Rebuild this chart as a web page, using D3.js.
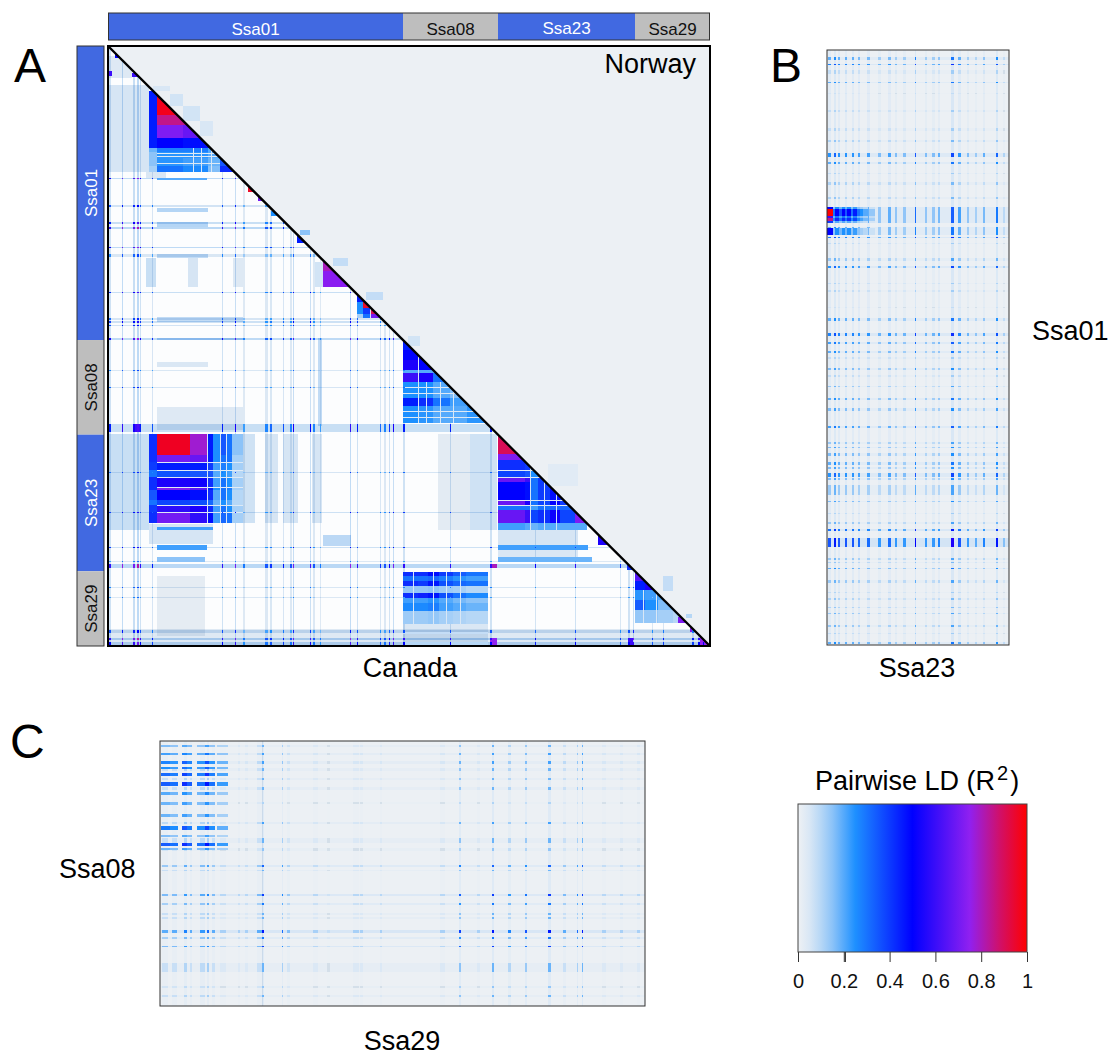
<!DOCTYPE html>
<html lang="en">
<head>
<meta charset="UTF-8">
<title>Pairwise LD</title>
<script src="https://d3js.org/d3.v7.min.js"></script>
<style>
  html, body { margin: 0; background: #fff; }
  svg { display: block; font-family: "Liberation Sans", Arial, sans-serif; }
  .cell { shape-rendering: crispEdges; }
  .mult { mix-blend-mode: multiply; }
</style>
</head>
<body>
<svg id="fig" width="1115" height="1057"></svg>
<script>
// colour key
const ldValues = [0, .05, .1, .15, .25, .5, .75, .88, 1];
const ldColors = ["#eef1f4", "#d9e7f5", "#b6d7f6", "#8cc3f8", "#1e90ff", "#0000ff", "#9020f0", "#d0106a", "#ff0000"];
const legendTicks = [0, .2, .4, .6, .8, 1];
const legendExtraTick = .205;

// chromosomes, boundaries in marker bins
const chromNames = ["Ssa01", "Ssa08", "Ssa23", "Ssa29"];
const chromEnds = [0, 295, 390, 527, 602];
const chromFill = ["#4169e1", "#bebebe", "#4169e1", "#bebebe"];
const chromText = ["#fff", "#111", "#fff", "#111"];

// panel A: [position, size, R2] for markers with LD across the genome
const aRows = [[132,1,.12],[159,2,.08],[176,2,.1],[181,2,.13],[201,1,.12],[208,3,.06],[246,1,.1],[272,2,.07],[275,2,.09],[279,1,.08],[292,2,.12],[324,1,.06],[341,1,.07],[378,8,.1],[426,1,.07],[466,1,.09],[501,1,.09],[515,1,.05],[518,4,.13],[541,1,.06],[551,1,.05],[584,3,.08],[592,2,.13],[596,4,.11]];
const aCols = [[1,2,.1],[14,1,.13],[25,2,.12],[29,2,.14],[32,1,.1],[44,1,.08],[114,1,.1],[127,1,.12],[135,2,.05],[157,3,.06],[162,2,.07],[175,1,.08],[182,2,.06],[185,1,.12],[202,1,.11],[205,2,.06],[212,1,.05],[242,1,.13],[249,1,.1],[272,1,.07],[276,2,.06],[281,1,.09],[285,1,.12],[295,2,.1],[342,1,.1],[382,2,.1],[427,1,.09],[467,1,.1],[512,1,.07],[520,2,.1],[525,1,.12],[544,1,.07],[555,1,.08],[584,2,.08],[590,2,.1],[595,1,.1]];

// panel A: pale patches [x0, x1, y0, y1, R2]
const aWash = [[1,41,39,126,.05],[1,24,10,32,.03],[38,58,126,132,.04],[1,41,388,484,.07],[135,147,388,477,.06],[157,170,388,477,.05],[175,190,388,477,.05],[204,214,388,477,.05],[49,100,162,166,.1],[49,100,176,181,.1],[49,100,208,212,.08],[49,135,271,276,.08],[49,135,292,294,.1],[210,214,292,380,.08],[38,48,212,241,.07],[80,90,212,241,.05],[125,135,212,241,.03],[49,100,316,321,.04],[49,135,361,384,.03],[362,389,388,484,.06],[330,362,388,484,.02],[215,243,489,500,.09],[41,105,478,498,.05],[295,380,577,600,.04],[0,602,583,600,.03],[390,470,484,499,.05],[390,470,504,511,.04],[49,97,530,590,.015]];

// panel A: LD blocks as band edges and a table of R2 read per band
const g1Rows = [45,69,79,92,102,106,112,120,126];
const g1Cols = [41,49,75,100,112,126];
const g1Vals = [[.45,.97,.97,.97,.97],[.45,.85,.85,.85,.85],[.45,.72,.68,.6,.6],[.45,.5,.48,.5,.55],[.18,.28,.28,.2,.3],[.15,.24,.24,.2,.25],[.15,.24,.22,.18,.35],[.12,.3,.26,.16,.42]];
const g3Rows = [216,225,241];
const g3Cols = [207,215,240];
const g3Vals = [[.06,.8],[.06,.74]];
const g4Rows = [249,256,262,268,272];
const g4Cols = [249,255,262,272];
const g4Vals = [[.45,.3,.2],[.25,.95,.45],[.25,.4,.9],[.12,.3,.7]];
const g5Rows = [294,304,314,324,327,336,352,360,377];
const g5Cols = [295,310,325,342,359,380];
const g5Vals = [[.45,.5,.5,.5,.5],[.5,.5,.5,.5,.5],[.55,.5,.42,.4,.4],[.2,.2,.2,.2,.2],[.6,.55,.3,.3,.3],[.25,.25,.2,.16,.14],[.45,.42,.3,.22,.2],[.25,.24,.2,.2,.24]];
const g6Rows = [388,409,416,424,431,441,444,454,459,466,477];
const g6Cols = [41,49,82,99,105,112,118,124,135];
const g6Vals = [[.42,.96,.78,.45,.25,.35,.3,.15],[.42,.7,.68,.45,.25,.3,.3,.12],[.4,.45,.45,.4,.22,.28,.25,.12],[.3,.36,.35,.35,.2,.25,.22,.1],[.42,.55,.52,.42,.22,.3,.25,.12],[.42,.72,.65,.45,.25,.3,.28,.12],[.35,.5,.48,.42,.2,.3,.25,.1],[.3,.38,.36,.32,.18,.25,.2,.1],[.4,.58,.55,.42,.22,.3,.25,.12],[.42,.7,.58,.48,.22,.32,.3,.12]];
const g7Rows = [388,408,414,424,431,436,454,459,464,477,484];
const g7Cols = [390,417,422,430,442,452,467,479];
const g7Vals = [[.9,.9,.9,.9,.9,.9,.9],[.72,.72,.7,.7,.7,.7,.7],[.42,.4,.3,.4,.4,.4,.4],[.38,.35,.25,.35,.45,.4,.4],[.68,.6,.3,.4,.5,.5,.5],[.5,.48,.3,.4,.48,.4,.4],[.68,.55,.3,.38,.5,.4,.45],[.3,.3,.22,.3,.32,.32,.35],[.68,.6,.38,.42,.52,.38,.72],[.22,.2,.18,.2,.2,.2,.2]];
const g8Rows = [527,535,544,554,564,577];
const g8Cols = [527,537,550,565,578];
const g8Vals = [[.65,.6,.4,.3],[.45,.55,.4,.3],[.24,.22,.2,.15],[.34,.25,.16,.12],[.14,.14,.12,.1]];
const g9Rows = [526,530,535,540,547,552,557,565,578];
const g9Cols = [295,310,320,331,345,358,380];
const g9Vals = [[.42,.42,.48,.4,.34,.3],[.3,.3,.32,.28,.24,.22],[.42,.4,.46,.36,.32,.3],[.14,.14,.15,.13,.12,.1],[.42,.44,.46,.36,.3,.26],[.22,.22,.24,.2,.17,.15],[.26,.26,.28,.22,.2,.18],[.13,.13,.14,.12,.11,.1]];

// panel A: small blocks, fringe above the diagonal and pale seams [x0, x1, y0, y1, R2]
const aSpots = [[189,199,186,197,.45],[140,146,140,146,.95],[150,156,151,155,.7],[163,170,165,170,.25],[7,14,6,12,.5],[1,4,25,30,.6],[24,30,27,31,.6],[490,499,489,499,.55],[519,525,519,524,.4],[570,579,571,577,.72],[582,589,582,586,.72],[592,602,591,600,.75],[49,99,132,134,.2],[49,99,499,504,.22],[49,97,511,516,.15],[49,105,481,484,.22],[390,480,499,504,.22],[390,484,511,516,.18],[295,380,586,588,.08],[295,380,596,600,.1],[1,3,378,386,.7],[25,32,378,386,.6],[382,389,518,522,.8],[382,389,592,600,.75],[520,525,592,600,.6]];
const aFringe = [[45,62,40,45,.05],[62,75,48,60,.06],[75,92,60,75,.06],[92,105,75,90,.05],[192,202,184,189,.15],[225,240,212,220,.08],[258,275,246,254,.08],[300,312,290,300,.06],[440,470,418,440,.03],[555,565,530,545,.08],[578,584,568,572,.1]];
const aSeams = [[49,112,107,108,.03],[49,112,110,111,.03],[49,112,117,118,.04],[85,86,102,126,.04],[93,94,102,126,.05],[103,104,102,126,.05],[295,380,341,342,.04],[295,380,347,348,.04],[295,380,365,366,.04],[295,380,371,372,.04],[310,311,294,377,.05],[318,319,336,377,.05],[332,333,336,377,.05],[345,346,336,377,.05],[49,135,416,417,.04],[49,135,424,425,.03],[49,135,431,432,.04],[49,135,441,442,.03],[49,135,459,460,.04],[49,135,466,467,.04],[99,100,388,477,.05],[112,113,388,477,.05],[118,119,388,477,.05],[390,479,424,425,.03],[390,479,431,432,.04],[390,479,454,455,.04],[390,479,459,460,.04],[422,423,414,484,.06],[436,437,414,484,.06],[448,449,414,484,.06],[305,306,526,578,.05],[325,326,526,578,.05],[338,339,526,578,.05],[352,353,526,578,.05],[535,536,544,577,.05],[548,549,544,577,.05],[262,263,249,272,.05]];

// panel B: Ssa23 against Ssa01, bins of the panel
const bRows = [[7,3,.07],[14,1,.1],[20,4,.03],[32,1,.07],[43,1,.02],[60,2,.03],[78,3,.03],[90,2,.04],[103,4,.09],[112,2,.07],[123,1,.03],[132,3,.04],[147,2,.04],[157,16,.08],[177,8,.07],[187,1,.1],[193,1,.03],[208,3,.05],[216,2,.09],[233,1,.03],[240,2,.03],[257,1,.02],[268,3,.07],[283,3,.1],[292,2,.08],[301,2,.07],[307,2,.03],[318,2,.06],[325,2,.03],[336,1,.05],[348,2,.07],[358,3,.06],[376,2,.08],[392,2,.05],[397,1,.06],[403,3,.06],[412,3,.07],[417,2,.06],[423,4,.09],[428,2,.06],[435,10,.05],[451,1,.06],[463,1,.03],[472,2,.05],[479,2,.11],[488,9,.13],[508,2,.05],[512,1,.04],[518,1,.07],[530,3,.05],[542,1,.03],[548,2,.04],[557,1,.04],[563,1,.05],[575,2,.05],[583,1,.03],[592,2,.07]];
const bCols = [[1,3,.09],[7,2,.12],[11,2,.09],[18,2,.09],[25,2,.09],[31,2,.08],[40,3,.08],[51,3,.06],[61,3,.08],[68,2,.06],[76,3,.06],[88,1,.13],[98,2,.06],[105,3,.06],[111,2,.07],[124,3,.14],[131,3,.09],[140,2,.06],[148,2,.05],[156,2,.07],[169,2,.12],[176,2,.04]];
const bHotRows = [[157,2,.5],[159,7,1],[166,2,.6],[168,3,.85],[171,2,.4],[178,7,.5]];
const bHotCols = [[0,6,1],[6,2,.3],[8,4,.5],[12,3,.35],[15,3,.5],[18,2,.35],[20,4,.5],[24,2,.3],[26,4,.45],[30,3,.3],[33,3,.25],[36,5,.2],[42,6,.14]];

// panel C: Ssa08 against Ssa29, bins of the panel
const cRows = [[4,2,.05],[12,2,.06],[20,3,.06],[27,3,.05],[37,2,.05],[46,3,.05],[61,2,.03],[81,2,.06],[97,5,.05],[107,3,.04],[124,2,.09],[129,1,.05],[153,2,.11],[162,2,.08],[172,2,.05],[176,2,.05],[189,3,.13],[196,2,.08],[205,1,.11],[222,9,.05],[245,2,.04],[254,2,.05]];
const cCols = [[2,6,.05],[12,5,.05],[24,3,.07],[30,2,.05],[40,5,.06],[47,2,.08],[52,3,.05],[60,6,.03],[78,2,.03],[85,3,.03],[97,6,.05],[102,2,.12],[122,1,.08],[127,3,.04],[153,5,.03],[167,3,.02],[193,6,.03],[200,3,.03],[220,2,.03],[280,5,.03],[299,2,.1],[317,3,.03],[332,2,.12],[348,3,.07],[365,2,.09],[388,3,.12],[403,3,.05],[417,1,.08],[422,1,.12],[442,4,.03],[460,3,.03],[477,3,.03]];
const cHotRows = [[4,2,.18],[12,2,.24],[20,3,.3],[26,2,.28],[32,3,.35],[41,4,.38],[51,3,.22],[61,3,.2],[73,3,.2],[85,4,.32],[94,2,.18],[102,3,.38],[107,2,.2]];
const cHotCols = [[1,9,.9],[10,8,.8],[22,5,1.1],[27,5,.9],[37,8,.8],[45,4,1.2],[49,6,.8],[57,11,.6]];

const ld = d3.scaleLinear().domain(ldValues).range(ldColors);
const svg = d3.select("#fig");
const defs = svg.append("defs");
defs.append("filter").attr("id", "soft").attr("x", 0).attr("y", 0).attr("width", 1).attr("height", 1)
    .append("feGaussianBlur").attr("stdDeviation", .4);

const xA = d3.scaleLinear().domain([0, 602]).range([108, 710]);
const yA = d3.scaleLinear().domain([0, 600]).range([46, 646]);
const yChrom = d3.scaleLinear().domain([0, 602]).range([46, 646]);
const xB = d3.scaleLinear().domain([0, 182]).range([827, 1009]);
const yB = d3.scaleLinear().domain([0, 595]).range([50, 645]);
const xC = d3.scaleLinear().domain([0, 485]).range([160, 645]);
const yC = d3.scaleLinear().domain([0, 265]).range([741, 1006]);

function drawCells(g, cells, x, y, blend) {
    g.append("g").selectAll("rect").data(cells).join("rect")
        .attr("class", blend ? "cell mult" : "cell")
        .attr("x", d => x(d[0]))
        .attr("y", d => y(d[2]))
        .attr("width", d => x(d[1]) - x(d[0]))
        .attr("height", d => y(d[3]) - y(d[2]))
        .attr("fill", d => ld(d[4]));
}
function gridCells(rows, cols, vals) {
    return vals.flatMap((line, i) => line.map((v, j) => [cols[j], cols[j + 1], rows[i], rows[i + 1], v]));
}
function rowCells(rows, x, f) {
    return rows.map(r => [x[0], x[1], r[0], r[0] + r[1], r[2] * f]);
}
function colCells(cols, y, f) {
    return cols.map(c => [c[0], c[0] + c[1], y[0], y[1], c[2] * f]);
}
// crossings of two marker lists
function crossCells(rows, cols, k) {
    return d3.cross(rows, cols, (r, c) => [c[0], c[0] + c[1], r[0], r[0] + r[1], Math.min(1, r[2] * c[2] * k)]);
}

// ---- panel A
defs.append("clipPath").attr("id", "lower").append("polygon")
    .attr("points", [[0, 0], [602, 600], [0, 600]].map(p => [xA(p[0]), yA(p[1])].join(",")).join(" "));
const bgA = svg.append("g");
drawCells(bgA, [[0, 602, 0, 600, 0.004]], xA, yA, false);
const softA = svg.append("g").attr("filter", "url(#soft)");
drawCells(softA, aFringe, xA, yA, false);
const lowA = softA.append("g").attr("clip-path", "url(#lower)");
lowA.append("polygon").attr("fill", "#fcfdfe")
    .attr("points", [[0, 0], [602, 600], [0, 600]].map(p => [xA(p[0]), yA(p[1])].join(",")).join(" "));
drawCells(lowA, aWash, xA, yA, true);
drawCells(lowA, colCells(aCols, [0, 600], .6), xA, yA, true);
drawCells(lowA, rowCells(aRows, [0, 602], .7), xA, yA, true);
drawCells(lowA, gridCells(g1Rows, g1Cols, g1Vals), xA, yA, false);
drawCells(lowA, gridCells(g3Rows, g3Cols, g3Vals), xA, yA, false);
drawCells(lowA, gridCells(g4Rows, g4Cols, g4Vals), xA, yA, false);
drawCells(lowA, gridCells(g5Rows, g5Cols, g5Vals), xA, yA, false);
drawCells(lowA, gridCells(g6Rows, g6Cols, g6Vals), xA, yA, false);
drawCells(lowA, gridCells(g7Rows, g7Cols, g7Vals), xA, yA, false);
drawCells(lowA, gridCells(g8Rows, g8Cols, g8Vals), xA, yA, false);
drawCells(lowA, gridCells(g9Rows, g9Cols, g9Vals), xA, yA, false);
drawCells(lowA, aSpots, xA, yA, false);
drawCells(lowA, aSeams, xA, yA, false);
drawCells(lowA, crossCells(aRows, aCols, 45).filter(d => d[4] > .12), xA, yA, false);

svg.append("line").attr("x1", xA(0)).attr("y1", yA(0)).attr("x2", xA(602)).attr("y2", yA(600))
    .attr("stroke", "#000").attr("stroke-width", 2.4);
svg.append("rect").attr("x", xA(0)).attr("y", yA(0)).attr("width", xA(602) - xA(0)).attr("height", yA(600) - yA(0))
    .attr("fill", "none").attr("stroke", "#000").attr("stroke-width", 2);

// chromosome strips
chromNames.forEach((name, i) => {
    const x0 = xA(chromEnds[i]), x1 = xA(chromEnds[i + 1]);
    const y0 = yChrom(chromEnds[i]), y1 = yChrom(chromEnds[i + 1]);
    svg.append("rect").attr("x", x0).attr("y", 13).attr("width", x1 - x0).attr("height", 27).attr("fill", chromFill[i]);
    svg.append("text").attr("x", (x0 + x1) / 2).attr("y", i == 2 ? 34 : 35).attr("text-anchor", "middle")
        .attr("font-size", 17).attr("fill", chromText[i]).text(name);
    svg.append("rect").attr("x", 77).attr("y", y0).attr("width", 27).attr("height", y1 - y0).attr("fill", chromFill[i]);
    svg.append("text").attr("transform", `translate(97,${(y0 + y1) / 2}) rotate(-90)`).attr("text-anchor", "middle")
        .attr("font-size", 17).attr("fill", chromText[i]).text(name);
});
svg.append("rect").attr("x", 108.5).attr("y", 13).attr("width", 601).attr("height", 27).attr("fill", "none").attr("stroke", "#333").attr("stroke-width", 1);
svg.append("rect").attr("x", 77).attr("y", 46).attr("width", 27).attr("height", 600).attr("fill", "none").attr("stroke", "#333").attr("stroke-width", 1);

// ---- panel B
drawCells(svg.append("g"), [[0, 182, 0, 595, 0.004]], xB, yB, false);
const softB = svg.append("g").attr("filter", "url(#soft)");
drawCells(softB, colCells(bCols, [0, 595], .35), xB, yB, true);
drawCells(softB, rowCells(bRows, [0, 182], .45), xB, yB, true);
drawCells(softB, crossCells(bRows, bCols, 30).filter(d => d[4] > .04), xB, yB, false);
drawCells(softB, crossCells(bHotRows, bHotCols, 1), xB, yB, false);
svg.append("rect").attr("x", 827).attr("y", 50).attr("width", 182).attr("height", 595)
    .attr("fill", "none").attr("stroke", "#333").attr("stroke-width", 1);

// ---- panel C
drawCells(svg.append("g"), [[0, 485, 0, 265, 0.004]], xC, yC, false);
const softC = svg.append("g").attr("filter", "url(#soft)");
drawCells(softC, colCells(cCols, [0, 265], .3), xC, yC, true);
drawCells(softC, rowCells(cRows, [0, 485], .4), xC, yC, true);
drawCells(softC, crossCells(cRows, cCols, 30).filter(d => d[4] > .04), xC, yC, false);
drawCells(softC, crossCells(cHotRows, cHotCols, 1), xC, yC, false);
svg.append("rect").attr("x", 160).attr("y", 741).attr("width", 485).attr("height", 265)
    .attr("fill", "none").attr("stroke", "#333").attr("stroke-width", 1);

// ---- legend
const grad = defs.append("linearGradient").attr("id", "key");
grad.selectAll("stop").data(ldValues).join("stop")
    .attr("offset", d => d).attr("stop-color", (d, i) => ldColors[i]);
const xKey = d3.scaleLinear().domain([0, 1]).range([798, 1027]);
svg.append("rect").attr("x", 798).attr("y", 804).attr("width", 229).attr("height", 148)
    .attr("fill", "url(#key)").attr("stroke", "#444").attr("stroke-width", 1);
const keyAxis = svg.append("g").attr("transform", "translate(0,952)")
    .call(d3.axisBottom(xKey).tickValues(legendTicks.concat([legendExtraTick])).tickSize(10).tickFormat(d => d == legendExtraTick ? "" : d));
keyAxis.select(".domain").remove();
keyAxis.selectAll("line").attr("stroke", "#333");
keyAxis.selectAll("text").attr("font-size", 20).attr("font-family", "Liberation Sans, Arial, sans-serif").attr("fill", "#111").attr("dy", 0).attr("y", 36);

// ---- text
function label(txt, x, y, size, anchor) {
    return svg.append("text").attr("x", x).attr("y", y).attr("font-size", size)
        .attr("text-anchor", anchor || "start").attr("fill", "#000").text(txt);
}
label("A", 14, 82, 48);
label("B", 770, 82, 48);
label("C", 10, 758, 48);
label("Norway", 696, 73, 27, "end");
label("Canada", 410, 677, 27, "middle");
label("Ssa23", 917, 677, 27, "middle");
label("Ssa01", 1032, 340, 27);
label("Ssa08", 59, 878, 27);
label("Ssa29", 402, 1050, 27, "middle");
const ttl = label("Pairwise LD (R", 815, 790, 27);
ttl.append("tspan").attr("dy", -10).attr("dx", 2).attr("font-size", 20).text("2");
ttl.append("tspan").attr("dy", 10).attr("dx", 2).text(")");
</script>
</body>
</html>
